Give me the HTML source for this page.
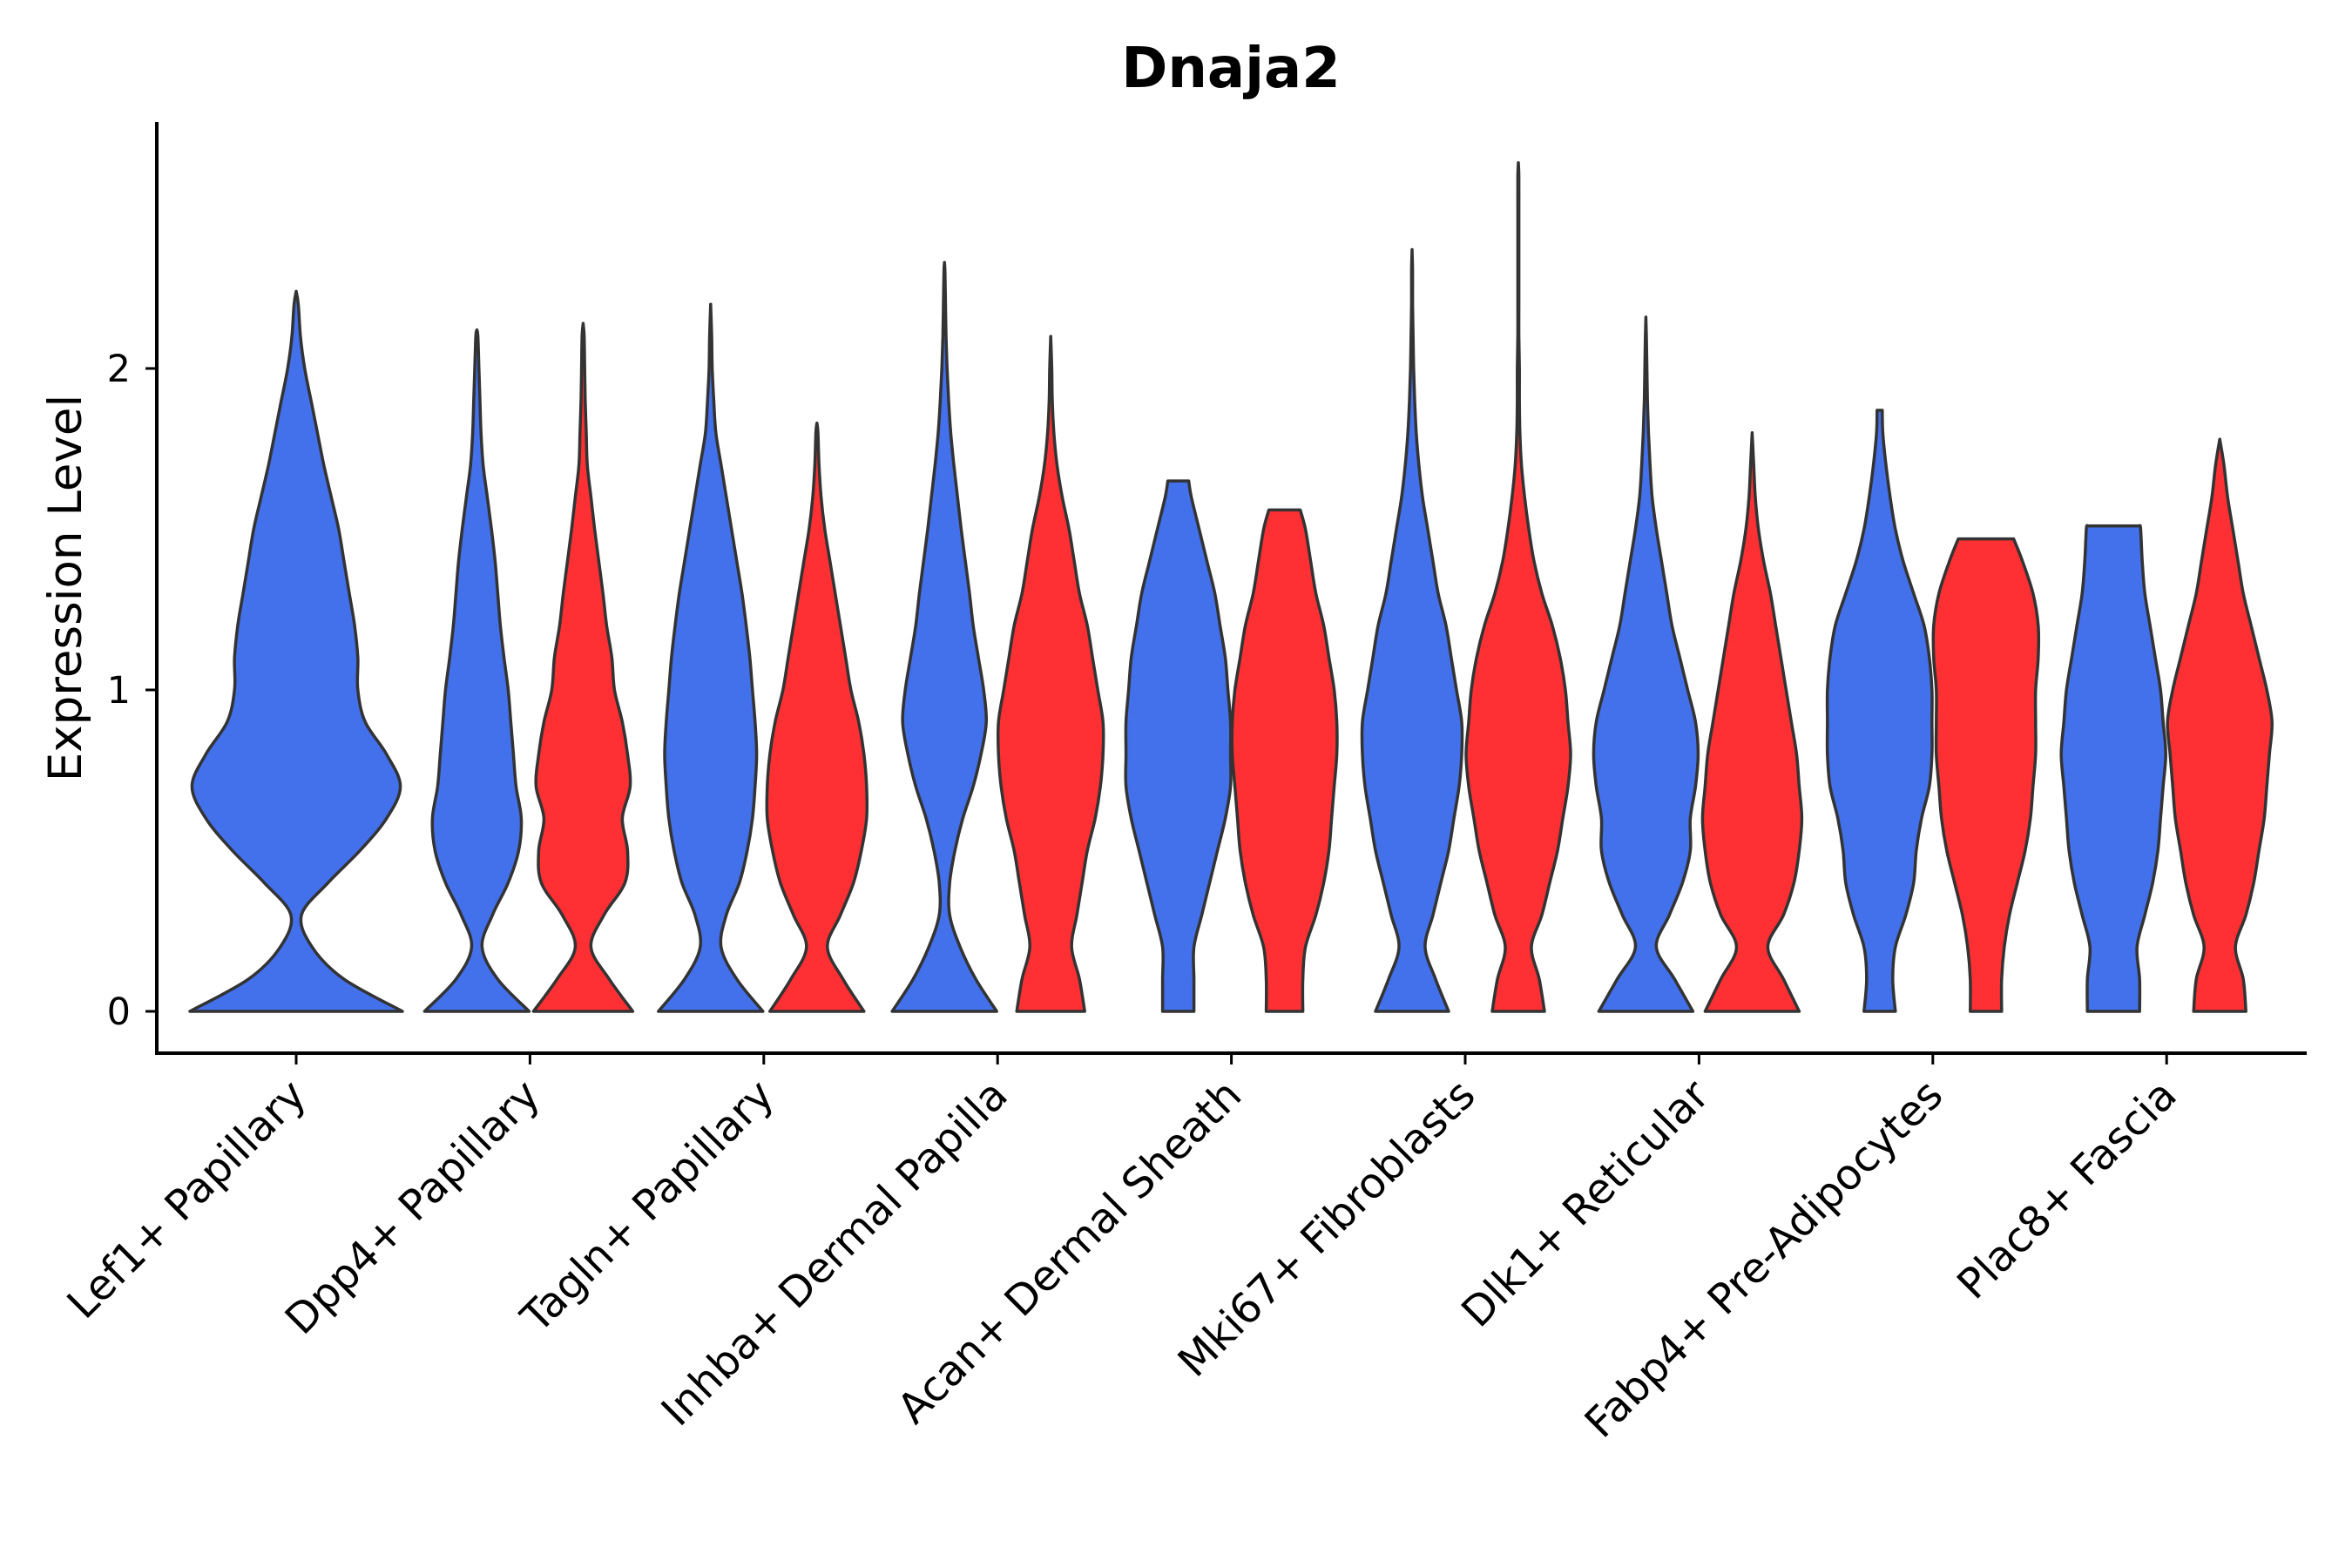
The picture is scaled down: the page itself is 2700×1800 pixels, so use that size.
<!DOCTYPE html>
<html><head><meta charset="utf-8"><style>
html,body{margin:0;padding:0;background:#fff;}
svg{display:block;}
text{font-family:"DejaVu Sans","Liberation Sans",sans-serif;fill:#000;}
</style></head><body>
<svg id="chart" width="2700" height="1800" viewBox="0 0 2700 1800">
<text x="1413" y="100" text-anchor="middle" font-size="64" font-weight="bold">Dnaja2</text>
<g id="axes"></g>
<g id="violins"></g>
<text transform="translate(93,675) rotate(-90)" text-anchor="middle" font-size="53">Expression Level</text>
</svg>
<script>
const categories = ["Lef1+ Papillary","Dpp4+ Papillary","Tagln+ Papillary","Inhba+ Dermal Papilla","Acan+ Dermal Sheath","Mki67+ Fibroblasts","Dlk1+ Reticular","Fabp4+ Pre-Adipocytes","Plac8+ Fascia"];
const yTicks = [0,1,2];
// density profile widths (relative) at 0.1 steps starting at 0; topVal = max value; topW = width at max
const blueMax = [2.24,2.12,2.2,2.33,1.65,2.37,2.16,1.87,1.51];
const blueTopW = [0,0,0,0,0.2,0,0,0.05,0.5];
const blueW = [
 [1,0.45,0.15,0.05,0.3,0.6,0.85,0.98,0.85,0.65,0.58,0.58,0.55,0.5,0.45,0.4,0.33,0.26,0.2,0.14,0.08,0.04,0.02],
 [1,0.4,0.1,0.3,0.6,0.8,0.85,0.75,0.7,0.65,0.6,0.52,0.45,0.4,0.35,0.28,0.2,0.12,0.08,0.06,0.04,0.02],
 [1,0.5,0.2,0.3,0.55,0.7,0.8,0.85,0.88,0.85,0.8,0.75,0.68,0.6,0.5,0.4,0.3,0.2,0.1,0.06,0.03,0.02],
 [1,0.6,0.3,0.1,0.1,0.2,0.35,0.55,0.7,0.8,0.75,0.65,0.55,0.48,0.4,0.32,0.25,0.18,0.12,0.08,0.05,0.03,0.02,0.01],
 [0.3,0.3,0.3,0.45,0.6,0.75,0.9,1,1,1,0.95,0.9,0.8,0.7,0.55,0.4,0.25],
 [0.7,0.45,0.25,0.4,0.55,0.7,0.8,0.9,0.95,0.95,0.85,0.75,0.65,0.5,0.4,0.3,0.2,0.13,0.08,0.05,0.03,0.02,0.01,0.01],
 [0.9,0.55,0.2,0.45,0.7,0.85,0.85,0.95,1,0.95,0.8,0.65,0.5,0.4,0.3,0.2,0.12,0.08,0.05,0.03,0.02,0.01],
 [0.3,0.25,0.3,0.5,0.65,0.7,0.8,0.95,1,1,1,0.95,0.85,0.65,0.45,0.3,0.2,0.12,0.06],
 [0.5,0.5,0.45,0.6,0.75,0.85,0.9,0.95,1,0.95,0.9,0.8,0.7,0.6,0.55,0.52]
];
const redMax = [null,2.14,1.83,2.1,1.56,2.64,1.8,1.47,1.78];
const redTopW = [0,0,0,0,0.3,0,0,0.53,0];
const redW = [
 null,
 [0.95,0.5,0.15,0.4,0.8,0.85,0.75,0.9,0.85,0.75,0.6,0.55,0.45,0.38,0.3,0.22,0.15,0.08,0.06,0.04,0.03,0.02],
 [0.9,0.5,0.2,0.45,0.7,0.85,0.95,0.95,0.9,0.8,0.65,0.55,0.45,0.35,0.25,0.15,0.08,0.04,0.02],
 [0.65,0.55,0.4,0.5,0.6,0.7,0.85,0.95,1,1,0.9,0.8,0.7,0.55,0.45,0.35,0.22,0.12,0.06,0.03,0.02,0.01],
 [0.35,0.35,0.4,0.6,0.75,0.85,0.9,0.95,1,1,0.95,0.85,0.75,0.6,0.5,0.4],
 [0.5,0.4,0.25,0.45,0.6,0.75,0.85,0.95,1,0.95,0.9,0.8,0.65,0.45,0.3,0.2,0.12,0.06,0.03,0.02,0.02,0.01,0.01,0.01,0.01,0.01,0.01],
 [0.9,0.6,0.3,0.6,0.8,0.9,0.95,0.9,0.85,0.75,0.65,0.55,0.45,0.35,0.22,0.12,0.06,0.03],
 [0.3,0.3,0.35,0.45,0.6,0.75,0.85,0.9,0.95,0.95,0.95,1,1,0.9,0.7],
 [0.5,0.45,0.3,0.5,0.65,0.75,0.85,0.9,0.95,1,0.9,0.75,0.6,0.45,0.35,0.25,0.15,0.08]
];
const NS='http://www.w3.org/2000/svg';
const X0=340, DX=268.4, Y0=1161, UNIT=369, AX=180, AXB=1209, AXT=140, AXR=2648;
const xPos = i => X0 + i*DX;
const yPos = v => Y0 - v*UNIT;
function mk(tag, attrs, parent){const e=document.createElementNS(NS,tag);for(const k in attrs)e.setAttribute(k,attrs[k]);parent.appendChild(e);return e;}
const axes=document.getElementById('axes');
let l=mk('line',{x1:AX,y1:AXT,x2:AX,y2:AXB+2,stroke:'#000','stroke-width':4},axes);


l=mk('line',{x1:AX-2,y1:AXB,x2:AXR,y2:AXB,stroke:'#000','stroke-width':4},axes);


yTicks.forEach(v=>{
 const t=mk('line',{x1:AX-13,y1:yPos(v),x2:AX,y2:yPos(v),stroke:'#000','stroke-width':3},axes);
 
 
 const tx=mk('text',{x:AX-30,y:yPos(v)+15,'text-anchor':'end','font-size':43},axes);
 tx.textContent=String(v);
 
 
});
categories.forEach((c,i)=>{
 const t=mk('line',{x1:xPos(i),y1:AXB,x2:xPos(i),y2:AXB+13,stroke:'#000','stroke-width':3},axes);
 
 
 const tx=mk('text',{transform:`translate(${xPos(i)+14},${1260}) rotate(-45)`,'text-anchor':'end','font-size':48},axes);
 tx.textContent=c;
 
 
});
function violinPath(cx, half, w, maxV, topW){
 const pts=[];
 for(let k=0;k<w.length;k++){const v=k*0.1;if(v<maxV-0.001)pts.push([v,w[k]]);}
 pts.push([maxV,topW]);
 const R=pts.map(p=>[cx+p[1]*half, yPos(p[0])]);
 const L=pts.map(p=>[cx-p[1]*half, yPos(p[0])]).reverse();
 function cr(P){let d='';for(let i=0;i<P.length-1;i++){const p0=P[Math.max(i-1,0)],p1=P[i],p2=P[i+1],p3=P[Math.min(i+2,P.length-1)];
  const c1=[p1[0]+(p2[0]-p0[0])/6,p1[1]+(p2[1]-p0[1])/6],c2=[p2[0]-(p3[0]-p1[0])/6,p2[1]-(p3[1]-p1[1])/6];
  d+=` C${c1[0].toFixed(1)},${c1[1].toFixed(1)} ${c2[0].toFixed(1)},${c2[1].toFixed(1)} ${p2[0].toFixed(1)},${p2[1].toFixed(1)}`;}return d;}
 return `M${L[L.length-1][0].toFixed(1)},${L[L.length-1][1].toFixed(1)} L${R[0][0].toFixed(1)},${R[0][1].toFixed(1)}`+cr(R)+` L${L[0][0].toFixed(1)},${L[0][1].toFixed(1)}`+cr(L)+' Z';
}
const vg=document.getElementById('violins');
categories.forEach((c,i)=>{
 const single = redW[i]===null;
 const bx = single ? xPos(i) : xPos(i)-61;
 const bh = single ? 122 : 60;
 const p=mk('path',{d:violinPath(bx,bh,blueW[i],blueMax[i],blueTopW[i]),fill:'#4370EB',stroke:'#333','stroke-width':3.5,'stroke-linejoin':'round'},vg);
 
 
 if(!single){
  const r=mk('path',{d:violinPath(xPos(i)+61,60,redW[i],redMax[i],redTopW[i]),fill:'#FF3033',stroke:'#333','stroke-width':3.5,'stroke-linejoin':'round'},vg);
  
  
 }
});
</script>
</body></html>
